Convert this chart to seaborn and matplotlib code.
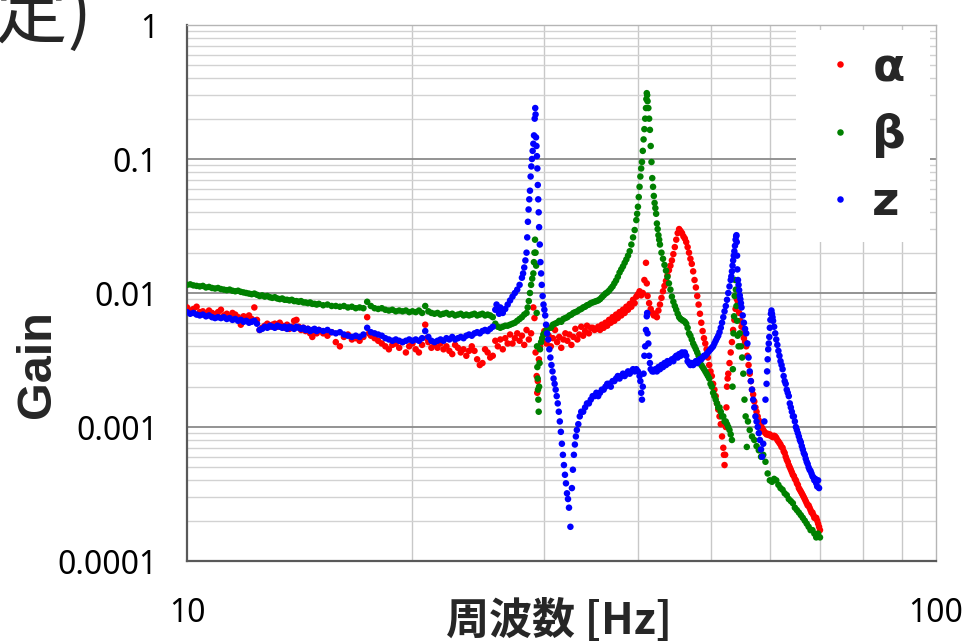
import numpy as np
import pandas as pd
import matplotlib
matplotlib.use("Agg")
import matplotlib.pyplot as plt
import seaborn as sns
from matplotlib.ticker import FixedLocator, FixedFormatter, NullFormatter
from matplotlib.patches import Rectangle

# ---------------- data (frequency [Hz], gain x 1e-3) ----------------
series_names = ["α", "β", "z"]
series_colors = {"α": "#ff0000", "β": "#008000", "z": "#0000ff"}
GAIN_UNIT = 1e-3

alpha_points = [
    (10.0,7.8),(10.1,7.4),(10.2,7.6),(10.3,7.9),(10.4,7.2),(10.5,7.3),(10.6,7.0),(10.7,7.4),(10.8,7.1),(10.9,6.9),
    (11.0,7.2),(11.1,7.5),(11.2,6.8),(11.3,7.0),(11.4,6.7),(11.5,7.1),(11.6,6.9),(11.7,6.6),(11.8,5.8),(11.9,6.7),
    (12.0,6.5),(12.1,6.8),(12.2,6.4),(12.3,7.8),(12.4,6.3),(12.5,5.3),(12.6,5.5),(12.7,5.7),(12.8,5.9),(12.9,5.6),
    (13.0,5.8),(13.1,5.9),(13.2,5.6),(13.3,6.0),(13.4,5.7),(13.5,5.5),(13.6,5.8),(13.7,5.4),(13.8,5.6),(13.9,6.2),
    (14.0,6.3),(14.1,5.6),(14.2,5.3),(14.3,5.5),(14.4,5.2),(14.5,5.4),(14.6,5.0),(14.7,4.7),(14.8,5.2),(14.9,5.0),
    (15.0,5.3),(15.2,5.0),(15.4,4.8),(15.6,5.1),(15.8,4.3),(16.0,4.0),(16.2,4.7),(16.4,4.9),(16.6,4.5),(16.8,4.6),
    (17.0,4.4),(17.2,4.7),(17.4,6.6),(17.5,5.0),(17.6,4.8),(17.8,4.6),(18.0,4.4),(18.2,4.2),(18.4,4.0),(18.6,3.8),
    (18.8,4.1),(19.0,4.2),(19.2,3.9),(19.4,4.3),(19.6,3.6),(19.8,4.0),(20.0,4.2),(20.2,3.8),(20.4,3.6),(20.6,4.1),
    (20.8,5.8),(20.9,4.6),(21.0,4.3),(21.2,3.9),(21.4,4.1),(21.6,3.9),(21.8,4.2),(22.0,3.8),(22.2,4.0),(22.4,3.7),
    (22.6,3.5),(22.8,4.1),(23.0,3.9),(23.2,3.6),(23.4,3.8),(23.6,3.4),(23.8,3.7),(24.0,4.0),(24.2,3.7),(24.4,3.2),
    (24.6,2.9),(24.8,3.0),(25.0,3.8),(25.2,3.6),(25.4,3.3),(25.6,3.4),(25.8,4.4),(26.0,4.0),(26.2,4.5),(26.4,3.8),
    (26.6,4.6),(26.8,4.2),(27.0,4.9),(27.2,4.2),(27.4,4.6),(27.6,5.0),(27.8,4.4),(28.0,4.8),(28.2,4.1),(28.4,5.3),
    (28.6,4.5),(28.8,5.0),(29.0,7.8),(29.1,6.5),(29.2,3.6),(29.3,2.4),(29.35,1.8),(29.4,2.2),(29.5,3.2),(29.6,4.0),
    (29.8,4.5),(30.0,5.2),(30.2,4.2),(30.4,4.8),(30.6,4.0),(30.8,4.6),(31.0,5.3),(31.2,4.3),(31.4,4.7),(31.6,3.9),
    (31.8,4.5),(32.0,5.0),(32.2,4.4),(32.4,4.9),(32.6,4.1),(32.8,4.7),(33.0,5.4),(33.2,4.5),(33.4,4.9),(33.6,5.6),
    (33.8,4.8),(34.0,5.2),(34.2,5.7),(34.4,5.0),(34.6,5.5),(34.8,5.5),(35.0,5.3),(35.2,5.4),(35.4,5.6),(35.6,5.3),
    (35.8,5.8),(36.0,5.5),(36.2,6.0),(36.4,5.7),(36.6,6.3),(36.8,6.0),(37.0,6.6),(37.2,6.2),(37.4,6.9),(37.6,6.5),
    (37.8,7.2),(38.0,6.8),(38.2,7.5),(38.4,7.1),(38.6,7.9),(38.8,7.5),(39.0,8.3),(39.2,7.9),(39.4,8.9),(39.6,8.4),
    (39.8,9.4),(40.0,9.8),(40.2,10.3),(40.4,9.6),(40.6,10.0),(40.8,12.5),(41.0,16.8),(41.1,11.8),(41.2,9.5),(41.4,8.4),
    (41.6,7.6),(41.8,7.1),(42.0,6.8),(42.2,7.0),(42.4,6.6),(42.6,7.4),(42.8,8.2),(43.0,9.2),(43.2,10.3),(43.4,11.3),
    (43.6,12.3),(43.8,13.5),(44.0,14.8),(44.2,16.0),(44.4,17.5),(44.6,19.5),(44.8,22.0),(45.0,25.0),(45.2,28.0),(45.4,30.0),
    (45.6,29.0),(45.8,28.0),(46.0,26.5),(46.2,25.5),(46.4,24.0),(46.6,22.0),(46.8,20.0),(47.0,18.0),(47.2,16.5),(47.4,14.5),
    (47.6,12.5),(47.8,11.0),(48.0,9.5),(48.2,8.2),(48.4,7.0),(48.6,6.0),(48.8,5.2),(49.0,4.6),(49.2,4.2),(49.4,3.8),
    (49.6,3.3),(49.8,2.9),(50.0,2.6),(50.2,2.4),(50.4,2.1),(50.6,1.9),(50.8,1.7),(51.0,1.5),(51.2,1.35),(51.4,1.2),
    (51.6,1.05),(51.8,0.85),(52.0,0.70),(52.1,0.62),(52.2,0.52),(52.3,0.62),(52.4,1.0),(52.5,1.4),(52.6,2.0),(52.7,2.3),
    (52.8,2.5),(53.0,3.0),(53.2,3.6),(53.4,4.3),(53.6,5.3),(53.8,6.3),(54.0,7.6),(54.2,9.0),(54.3,9.4),(54.4,8.6),
    (54.6,7.1),(54.8,6.2),(55.0,5.6),(55.2,5.0),(55.4,4.6),(55.6,4.3),(55.8,4.0),(56.0,3.4),(56.2,2.9),(56.4,2.5),
    (56.6,2.2),(56.8,1.9),(57.0,1.75),(57.2,1.55),(57.4,1.40),(57.6,1.30),(57.8,1.20),(58.0,1.12),(58.2,1.06),(58.4,1.02),
    (58.6,0.98),(58.8,0.95),(59.0,0.92),(59.2,0.90),(59.4,0.88),(59.6,0.89),(59.8,0.87),(60.0,0.88),(60.2,0.86),(60.4,0.85),
    (60.6,0.84),(60.8,0.86),(61.0,0.85),(61.2,0.83),(61.4,0.80),(61.6,0.78),(61.8,0.76),(62.0,0.74),(62.2,0.71),(62.4,0.70),
    (62.6,0.66),(62.8,0.64),(63.0,0.60),(63.2,0.57),(63.4,0.55),(63.6,0.52),(63.8,0.50),(64.0,0.48),(64.2,0.46),(64.4,0.44),
    (64.6,0.43),(64.8,0.41),(65.0,0.40),(65.2,0.38),(65.4,0.37),(65.6,0.35),(65.8,0.34),(66.0,0.33),(66.2,0.32),(66.4,0.31),
    (66.6,0.30),(66.8,0.29),(67.0,0.28),(67.2,0.27),(67.4,0.26),(67.6,0.26),(67.8,0.25),(68.0,0.24),(68.2,0.23),(68.4,0.23),
    (68.6,0.22),(68.8,0.21),(69.0,0.21),(69.2,0.21),(69.4,0.20),(69.6,0.19),(69.8,0.18),(70.0,0.17),
]

beta_points = [
    (10.0,11.5),(10.1,11.6),(10.2,11.4),(10.3,11.3),(10.4,11.2),(10.5,11.3),(10.6,11.0),(10.7,11.1),(10.8,10.9),(10.9,10.8),
    (11.0,10.9),(11.1,10.7),(11.2,10.6),(11.3,10.5),(11.4,10.6),(11.5,10.4),(11.6,10.3),(11.7,10.4),(11.8,10.2),(11.9,10.1),
    (12.0,10.0),(12.1,9.9),(12.2,9.8),(12.3,9.9),(12.4,9.7),(12.5,9.5),(12.6,9.6),(12.7,9.4),(12.8,9.5),(12.9,9.3),
    (13.0,9.2),(13.1,9.3),(13.2,9.1),(13.3,9.0),(13.4,9.1),(13.5,8.9),(13.6,8.9),(13.7,8.8),(13.8,8.9),(13.9,8.7),
    (14.0,8.7),(14.1,8.6),(14.2,8.7),(14.3,8.5),(14.4,8.5),(14.5,8.4),(14.6,8.5),(14.7,8.3),(14.8,8.3),(14.9,8.2),
    (15.0,8.3),(15.2,8.1),(15.4,8.2),(15.6,8.0),(15.8,8.0),(16.0,7.9),(16.2,8.0),(16.4,7.8),(16.6,7.9),(16.8,7.7),
    (17.0,7.8),(17.2,7.7),(17.4,8.6),(17.6,8.0),(17.8,7.7),(18.0,7.6),(18.2,7.7),(18.4,7.5),(18.6,7.4),(18.8,7.5),
    (19.0,7.3),(19.2,7.4),(19.4,7.3),(19.6,7.4),(19.8,7.2),(20.0,7.3),(20.2,7.2),(20.4,7.4),(20.6,7.1),(20.8,8.0),
    (21.0,7.3),(21.2,7.1),(21.4,7.0),(21.6,7.1),(21.8,6.9),(22.0,7.0),(22.2,7.1),(22.4,6.9),(22.6,7.0),(22.8,6.8),
    (23.0,6.9),(23.2,7.0),(23.4,6.8),(23.6,6.9),(23.8,6.8),(24.0,6.9),(24.2,7.0),(24.4,6.8),(24.6,6.9),(24.8,7.0),
    (25.0,6.8),(25.2,6.9),(25.4,6.8),(25.6,6.6),(25.8,5.9),(26.0,5.6),(26.2,5.5),(26.4,5.6),(26.6,5.7),(26.8,5.7),
    (27.0,5.8),(27.2,5.9),(27.4,6.0),(27.6,6.2),(27.8,6.4),(28.0,6.6),(28.2,6.9),(28.4,7.1),(28.5,7.8),(28.6,8.7),
    (28.7,10.0),(28.8,11.5),(28.9,12.8),(29.0,14.0),(29.05,17.0),(29.1,20.0),(29.15,25.0),(29.2,20.0),(29.25,16.0),(29.3,7.1),
    (29.33,4.0),(29.36,2.8),(29.39,2.3),(29.42,1.9),(29.45,1.6),(29.48,1.3),(29.52,2.0),(29.56,3.0),(29.6,3.8),(29.7,4.3),
    (29.8,4.6),(29.9,4.9),(30.0,5.0),(30.2,5.3),(30.4,5.5),(30.6,5.5),(30.8,5.8),(31.0,5.9),(31.2,6.0),(31.4,6.2),
    (31.6,6.1),(31.8,6.4),(32.0,6.5),(32.2,6.6),(32.4,6.8),(32.6,6.9),(32.8,7.1),(33.0,7.2),(33.2,7.3),(33.4,7.5),
    (33.6,7.6),(33.8,7.8),(34.0,7.9),(34.2,8.1),(34.4,8.2),(34.6,8.4),(34.8,8.5),(35.0,8.6),(35.2,8.7),(35.4,8.8),
    (35.6,9.0),(35.8,9.3),(36.0,9.6),(36.2,9.9),(36.4,10.1),(36.6,10.4),(36.8,10.8),(37.0,11.2),(37.2,11.8),(37.4,12.4),
    (37.6,13.2),(37.8,14.2),(38.0,15.0),(38.2,15.8),(38.4,16.8),(38.6,17.8),(38.8,19.0),(39.0,20.5),(39.2,23.0),(39.4,26.0),
    (39.6,29.5),(39.8,35.0),(39.9,39.0),(40.0,44.0),(40.1,52.0),(40.2,62.0),(40.3,74.0),(40.4,85.0),(40.5,95.0),(40.6,115.0),
    (40.7,140.0),(40.8,167.0),(40.9,200.0),(41.0,240.0),(41.05,280.0),(41.1,310.0),(41.15,300.0),(41.2,270.0),(41.3,240.0),(41.4,200.0),
    (41.5,165.0),(41.6,125.0),(41.7,95.0),(41.8,72.0),(41.9,62.0),(42.0,53.0),(42.1,47.0),(42.2,43.0),(42.3,39.0),(42.4,33.0),
    (42.5,30.0),(42.6,27.0),(42.7,25.0),(42.8,23.0),(43.0,20.0),(43.2,18.0),(43.4,16.2),(43.6,14.7),(43.8,13.2),(44.0,11.8),
    (44.2,10.6),(44.4,9.4),(44.6,8.6),(44.8,8.0),(45.0,7.5),(45.2,7.0),(45.4,6.6),(45.6,6.4),(45.8,6.3),(46.0,6.2),
    (46.2,6.1),(46.4,5.9),(46.6,5.5),(46.8,5.0),(47.0,4.8),(47.2,4.5),(47.4,4.2),(47.6,4.0),(47.8,3.8),(48.0,3.6),
    (48.2,3.4),(48.4,3.1),(48.6,2.9),(48.8,2.8),(49.0,2.7),(49.2,2.6),(49.4,2.5),(49.6,2.4),(49.8,2.3),(50.0,2.1),
    (50.2,2.0),(50.4,1.8),(50.6,1.7),(50.8,1.6),(51.0,1.5),(51.2,1.4),(51.4,1.4),(51.6,1.3),(51.8,1.2),(52.0,1.2),
    (52.2,1.1),(52.4,1.1),(52.6,1.05),(52.8,1.0),(53.0,0.95),(53.2,0.88),(53.4,0.80),(53.5,2.0),(53.55,2.7),(53.65,5.0),
    (53.75,6.7),(53.85,9.5),(53.95,12.5),(54.05,10.6),(54.15,8.0),(54.25,6.2),(54.35,4.8),(54.5,4.0),(54.7,5.0),(54.9,4.0),
    (55.1,3.3),(55.3,2.5),(55.5,1.6),(55.7,1.2),(55.9,0.71),(56.1,1.1),(56.4,0.95),(56.8,0.85),(57.2,0.80),(57.6,0.72),
    (58.0,0.67),(58.4,0.60),(58.8,0.62),(59.2,0.55),(59.6,0.45),(60.0,0.40),(60.4,0.39),(60.8,0.41),(61.2,0.40),(61.6,0.37),
    (62.0,0.35),(62.4,0.34),(62.8,0.32),(63.2,0.31),(63.6,0.29),(64.0,0.28),(64.4,0.27),(64.8,0.25),(65.2,0.24),(65.6,0.23),
    (66.0,0.22),(66.4,0.21),(66.8,0.20),(67.2,0.19),(67.6,0.18),(68.0,0.17),(68.4,0.17),(68.8,0.16),(69.2,0.15),(69.6,0.16),(70.0,0.15),
]

z_points = [
    (10.0,7.2),(10.1,7.0),(10.2,7.1),(10.3,6.9),(10.4,6.8),(10.5,6.9),(10.6,6.7),(10.7,6.8),(10.8,6.6),(10.9,6.5),
    (11.0,6.6),(11.1,6.5),(11.2,6.6),(11.3,6.4),(11.4,6.5),(11.5,6.3),(11.6,6.4),(11.7,6.2),(11.8,6.3),(11.9,6.1),
    (12.0,6.2),(12.1,6.0),(12.2,6.1),(12.3,6.2),(12.4,5.9),(12.5,5.3),(12.6,5.4),(12.7,5.6),(12.8,5.5),(12.9,5.7),
    (13.0,5.6),(13.1,5.5),(13.2,5.7),(13.3,5.6),(13.4,5.5),(13.5,5.6),(13.6,5.4),(13.7,5.6),(13.8,5.5),(13.9,5.4),
    (14.0,5.6),(14.1,5.5),(14.2,5.4),(14.3,5.5),(14.4,5.3),(14.5,5.4),(14.6,5.2),(14.7,5.3),(14.8,5.4),(14.9,5.2),
    (15.0,5.3),(15.2,5.2),(15.4,5.3),(15.6,5.1),(15.8,5.0),(16.0,5.1),(16.2,4.9),(16.4,4.8),(16.6,4.7),(16.8,4.8),
    (17.0,4.7),(17.2,4.9),(17.4,5.5),(17.6,5.1),(17.8,5.0),(18.0,4.9),(18.2,4.8),(18.4,4.6),(18.6,4.5),(18.8,4.4),
    (19.0,4.5),(19.2,4.4),(19.4,4.3),(19.6,4.4),(19.8,4.5),(20.0,4.4),(20.2,4.5),(20.4,4.4),(20.6,4.6),(20.8,5.2),
    (21.0,4.7),(21.2,4.4),(21.4,4.3),(21.6,4.4),(21.8,4.5),(22.0,4.4),(22.2,4.6),(22.4,4.5),(22.6,4.7),(22.8,4.5),
    (23.0,4.6),(23.2,4.7),(23.4,4.6),(23.6,4.8),(23.8,4.9),(24.0,4.8),(24.2,5.0),(24.4,5.1),(24.6,5.0),(24.8,5.2),
    (25.0,5.3),(25.2,5.2),(25.4,5.4),(25.6,5.6),(25.8,7.5),(25.9,8.2),(26.0,7.6),(26.1,7.0),(26.2,7.8),(26.3,7.3),
    (26.4,7.1),(26.6,7.6),(26.8,8.2),(27.0,8.8),(27.2,9.4),(27.4,10.0),(27.6,10.6),(27.8,11.5),(28.0,13.0),(28.1,14.0),
    (28.2,15.5),(28.3,17.5),(28.4,20.0),(28.46,26.0),(28.52,34.0),(28.58,42.0),(28.64,50.0),(28.7,58.0),(28.76,74.0),(28.82,88.0),
    (28.88,100.0),(28.94,115.0),(29.0,130.0),(29.06,150.0),(29.12,200.0),(29.17,240.0),(29.2,215.0),(29.24,145.0),(29.28,125.0),(29.32,105.0),
    (29.36,85.0),(29.4,64.0),(29.44,50.0),(29.48,40.0),(29.52,31.0),(29.58,23.0),(29.64,17.0),(29.7,14.0),(29.76,11.5),(29.84,9.5),
    (29.92,8.2),(30.0,7.5),(30.08,6.8),(30.16,5.8),(30.26,5.0),(30.36,4.5),(30.46,3.8),(30.56,3.3),(30.66,2.9),(30.76,2.6),
    (30.86,2.3),(30.96,2.1),(31.06,1.9),(31.16,1.7),(31.26,1.5),(31.36,1.3),(31.46,1.1),(31.56,0.92),(31.66,0.75),(31.76,0.62),
    (31.86,0.52),(31.96,0.44),(32.06,0.38),(32.16,0.32),(32.26,0.29),(32.36,0.25),(32.5,0.18),(32.65,0.35),(32.75,0.48),(32.85,0.62),
    (32.95,0.74),(33.05,0.85),(33.15,0.95),(33.3,1.05),(33.45,1.2),(33.6,1.3),(33.8,1.3),(34.0,1.4),(34.2,1.5),(34.4,1.5),
    (34.6,1.6),(34.8,1.7),(35.0,1.7),(35.2,1.8),(35.4,1.7),(35.6,1.8),(35.8,1.9),(36.0,1.9),(36.2,2.0),(36.4,2.1),
    (36.6,2.1),(36.8,2.0),(37.0,2.2),(37.2,2.2),(37.4,2.3),(37.6,2.4),(37.8,2.3),(38.0,2.4),(38.2,2.5),(38.4,2.4),
    (38.6,2.5),(38.8,2.6),(39.0,2.5),(39.2,2.6),(39.4,2.7),(39.6,2.6),(39.8,2.7),(40.0,2.6),(40.2,2.4),(40.3,2.2),
    (40.4,1.8),(40.5,1.6),(40.6,2.0),(40.7,2.5),(40.8,3.4),(40.9,4.0),(41.0,5.3),(41.1,6.7),(41.15,7.1),(41.2,5.0),
    (41.3,4.2),(41.4,3.4),(41.5,3.0),(41.6,2.7),(41.8,2.6),(42.0,2.6),(42.2,2.7),(42.4,2.6),(42.6,2.8),(42.8,2.7),
    (43.0,2.9),(43.2,2.8),(43.4,3.0),(43.6,2.9),(43.8,3.1),(44.0,3.0),(44.2,3.1),(44.4,3.2),(44.6,3.1),(44.8,3.3),
    (45.0,3.4),(45.2,3.3),(45.4,3.5),(45.6,3.4),(45.8,3.6),(46.0,3.5),(46.2,3.6),(46.4,3.4),(46.6,3.1),(46.8,3.0),
    (47.0,2.9),(47.2,3.0),(47.4,2.9),(47.6,3.0),(47.8,3.1),(48.0,3.0),(48.2,3.1),(48.4,3.2),(48.6,3.2),(48.8,3.3),
    (49.0,3.4),(49.2,3.4),(49.4,3.5),(49.6,3.6),(49.8,3.7),(50.0,3.8),(50.2,3.9),(50.4,4.0),(50.6,4.2),(50.8,4.4),
    (51.0,4.6),(51.2,4.8),(51.4,5.1),(51.6,5.5),(51.8,6.0),(52.0,6.6),(52.2,7.3),(52.4,8.0),(52.6,8.9),(52.8,10.0),
    (53.0,11.2),(53.2,12.5),(53.3,13.3),(53.4,14.5),(53.5,16.0),(53.6,17.5),(53.7,19.0),(53.8,20.5),(53.9,22.5),(54.0,25.0),
    (54.1,26.5),(54.15,27.0),(54.2,24.0),(54.25,19.0),(54.3,15.0),(54.4,12.5),(54.5,11.5),(54.6,10.5),(54.7,9.6),(54.8,9.0),
    (54.9,8.4),(55.0,7.8),(55.2,6.8),(55.4,6.0),(55.6,5.4),(55.8,5.0),(56.0,4.2),(56.2,3.3),(56.4,2.6),(56.6,2.2),
    (56.8,1.9),(57.0,1.6),(57.2,1.4),(57.4,1.2),(57.6,1.1),(57.8,1.0),(58.0,0.90),(58.2,0.80),(58.4,0.68),(58.6,0.60),
    (58.8,0.75),(59.0,1.1),(59.2,1.6),(59.4,2.1),(59.5,2.6),(59.6,3.2),(59.7,3.8),(59.8,4.2),(59.9,4.7),(60.0,5.5),
    (60.1,6.3),(60.2,7.0),(60.3,7.4),(60.4,7.0),(60.5,6.6),(60.6,6.2),(60.8,5.6),(61.0,5.0),(61.2,4.5),(61.4,4.1),
    (61.6,3.7),(61.8,3.4),(62.0,3.1),(62.2,2.9),(62.4,2.7),(62.6,2.4),(62.8,2.2),(63.0,2.1),(63.2,1.9),(63.4,1.8),
    (63.6,1.7),(63.8,1.5),(64.0,1.4),(64.2,1.3),(64.4,1.2),(64.6,1.2),(64.8,1.1),(65.0,1.0),(65.2,0.95),(65.4,0.90),
    (65.6,0.85),(65.8,0.80),(66.0,0.77),(66.2,0.72),(66.4,0.68),(66.6,0.64),(66.8,0.62),(67.0,0.58),(67.2,0.55),(67.4,0.53),
    (67.6,0.50),(67.8,0.48),(68.0,0.47),(68.2,0.45),(68.4,0.43),(68.6,0.42),(68.8,0.40),(69.0,0.41),(69.2,0.38),(69.4,0.36),
    (69.6,0.40),(69.8,0.35),
]

x_tick_values = [10, 100]
x_tick_labels = ["10", "100"]
x_minor_values = [20, 30, 40, 50, 60, 70, 80, 90]
y_tick_values = [1e-4, 1e-3, 1e-2, 1e-1, 1.0]
y_tick_labels = ["0.0001", "0.001", "0.01", "0.1", "1"]
y_minor_values = [m * d for d in [1e-4, 1e-3, 1e-2, 1e-1] for m in range(2, 10)]
x_label = "周波数 [Hz]"
y_label = "Gain"
title_fragment = "測定)"

# ---------------- build table ----------------
rows = []
for name, pts in zip(series_names, [alpha_points, beta_points, z_points]):
    for f, g in pts:
        rows.append({"freq": f, "gain": g * GAIN_UNIT, "series": name})
df = pd.DataFrame(rows)

# ---------------- style ----------------
sns.set_style("white")
plt.rcParams["font.family"] = ["Noto Sans", "DejaVu Sans"]
cjk = ["Noto Sans CJK JP", "DejaVu Sans"]

W, H = 968, 643
fig = plt.figure(figsize=(W / 100, H / 100), dpi=100)
ax = fig.add_axes([187 / W, 1 - 561 / H, (936 - 187) / W, (561 - 25) / H])
ax.set_xscale("log")
ax.set_yscale("log")

sns.scatterplot(data=df, x="freq", y="gain", hue="series", hue_order=series_names,
                palette=series_colors, s=22, linewidth=0, ax=ax, zorder=3)

ax.set_xlim(10, 100)
ax.set_ylim(1e-4, 1)

ax.xaxis.set_major_locator(FixedLocator(x_tick_values))
ax.xaxis.set_major_formatter(FixedFormatter(x_tick_labels))
ax.xaxis.set_minor_locator(FixedLocator(x_minor_values))
ax.xaxis.set_minor_formatter(NullFormatter())
ax.yaxis.set_major_locator(FixedLocator(y_tick_values))
ax.yaxis.set_major_formatter(FixedFormatter(y_tick_labels))
ax.yaxis.set_minor_locator(FixedLocator(y_minor_values))
ax.yaxis.set_minor_formatter(NullFormatter())

ax.set_axisbelow(True)
ax.grid(False)
ax.xaxis.grid(True, which="minor", color="#c8c8c8", linewidth=1.0)
ax.yaxis.grid(True, which="minor", color="#d2d2d2", linewidth=1.0)
ax.yaxis.grid(True, which="major", color="#8a8a8a", linewidth=1.3)

ax.tick_params(axis="x", which="both", length=0, pad=26, labelsize=23, labelcolor="black")
ax.tick_params(axis="y", which="major", direction="in", length=9, width=1.3,
               color="#404040", pad=21, labelsize=23, labelcolor="black")
ax.tick_params(axis="y", which="minor", length=0)

for s in ["left", "bottom"]:
    ax.spines[s].set_color("#595959")
    ax.spines[s].set_linewidth(1.6)
for s in ["top", "right"]:
    ax.spines[s].set_color("#b5b5b5")
    ax.spines[s].set_linewidth(1.0)

ax.set_xlabel("")
ax.set_ylabel("")

# ---------------- legend ----------------
old = ax.get_legend()
handles = list(old.legend_handles)
labels = [t.get_text() for t in old.get_texts()]
old.remove()

ax.add_patch(Rectangle(((796 - 187) / 749, (561 - 242) / 536), (930 - 796) / 749, (242 - 30) / 536,
                       transform=ax.transAxes, facecolor="white", edgecolor="none", zorder=4))
leg = ax.legend(handles, labels, loc="upper left",
                bbox_to_anchor=((826 - 187) / 749, (561 - 46) / 536),
                frameon=False, borderpad=0, borderaxespad=0,
                handlelength=0.6, handletextpad=0.38, labelspacing=0.47,
                markerscale=1.0,
                prop={"size": 34, "weight": "bold", "family": ["DejaVu Sans"]})
leg.set_zorder(5)

# ---------------- labels ----------------
fig.text(38 / W, 1 - 364 / H, y_label, rotation=90, ha="center", va="center",
         fontsize=35, fontweight="bold", family=["Liberation Sans", "DejaVu Sans"])
fig.text(559 / W, 1 - 634 / H, x_label, ha="center", va="baseline",
         fontsize=31, fontweight="bold", family=cjk)
fig.text(92 / W, 1 - 37 / H, title_fragment, ha="right", va="baseline",
         fontsize=52, family=cjk)

fig.savefig("out.png", dpi=100)
